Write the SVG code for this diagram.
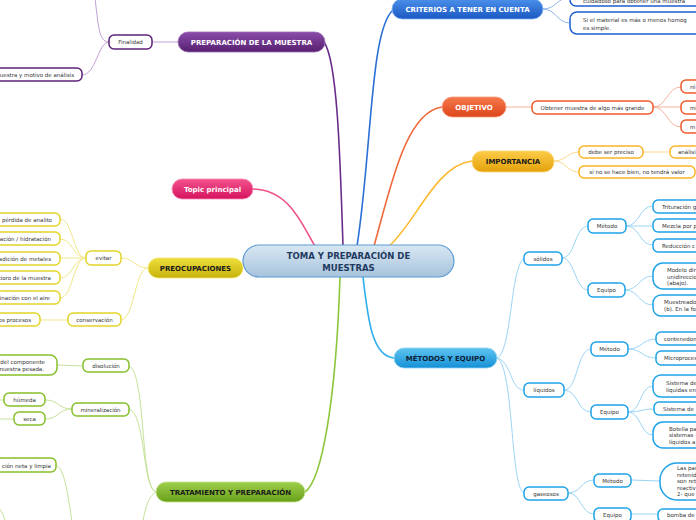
<svg xmlns="http://www.w3.org/2000/svg" width="696" height="520" viewBox="0 0 696 520">
<defs>
<linearGradient id="gPur" x1="0" y1="0" x2="0" y2="1"><stop offset="0" stop-color="#8c4cab"/><stop offset="1" stop-color="#55206f"/></linearGradient>
<linearGradient id="gBlu" x1="0" y1="0" x2="0" y2="1"><stop offset="0" stop-color="#4b90ea"/><stop offset="1" stop-color="#1b58c2"/></linearGradient>
<linearGradient id="gOra" x1="0" y1="0" x2="0" y2="1"><stop offset="0" stop-color="#f57a4b"/><stop offset="1" stop-color="#dd451b"/></linearGradient>
<linearGradient id="gYel" x1="0" y1="0" x2="0" y2="1"><stop offset="0" stop-color="#fdcc48"/><stop offset="1" stop-color="#e3a10a"/></linearGradient>
<linearGradient id="gCya" x1="0" y1="0" x2="0" y2="1"><stop offset="0" stop-color="#5ec4f1"/><stop offset="1" stop-color="#1590d6"/></linearGradient>
<linearGradient id="gPnk" x1="0" y1="0" x2="0" y2="1"><stop offset="0" stop-color="#f3538e"/><stop offset="1" stop-color="#d5135e"/></linearGradient>
<linearGradient id="gLim" x1="0" y1="0" x2="0" y2="1"><stop offset="0" stop-color="#eddf3c"/><stop offset="1" stop-color="#c8b20c"/></linearGradient>
<linearGradient id="gGrn" x1="0" y1="0" x2="0" y2="1"><stop offset="0" stop-color="#9fcf4c"/><stop offset="1" stop-color="#68a019"/></linearGradient>
<linearGradient id="gCen" x1="0" y1="0" x2="0" y2="1"><stop offset="0" stop-color="#d8e7f3"/><stop offset="1" stop-color="#a7c3dc"/></linearGradient>
</defs>
<style>
text{font-family:"DejaVu Sans","Verdana",sans-serif}
.mt{font-size:7px;font-weight:bold;text-anchor:middle}
.w{fill:#ffffff}
.d{fill:#1a1a1a}
.st{font-size:5.5px;fill:#333333}
.m{text-anchor:middle}
.e{text-anchor:end}
.sn{fill:#ffffff;stroke-width:1.5}
.c{fill:none;stroke-width:1}
.mc{fill:none;stroke-width:1.6}
.pu{stroke:#5e2279}.bl{stroke:#1f5fcc}.or{stroke:#ef5b2b}.ye{stroke:#f9b428}.cy{stroke:#1ea3e8}.li{stroke:#e3d42a}.gr{stroke:#86bf2a}
</style>

<g id="connectors">
<path class="mc" stroke="#6a2c8a" d="M343,246 C340,150 337,60 324,42"/>
<path class="mc" stroke="#2a6fd6" d="M357,246 C372,150 370,30 393,10"/>
<path class="mc" stroke="#f0683a" d="M374,246 C390,190 405,112 442,107"/>
<path class="mc" stroke="#fbba30" d="M388,247 C415,225 435,165 472,161"/>
<path class="mc" stroke="#ef4f8a" d="M253,189 C290,190 302,225 315,246"/>
<path class="mc" stroke="#2fb0ee" d="M363,277 C368,320 372,356 394,358"/>
<path class="mc" stroke="#8cc63a" d="M340,277 C336,400 322,480 305,492"/>

<g stroke="#c2a0d4" class="c">
<path class="c" d="M178,42 L152,42"/>
<path class="c" d="M109,42 C101,42 99,32 97,15 L95,-2"/>
<path class="c" d="M109,42 C98,42 96,75 82,75"/>
</g>
<g stroke="#8db6ec">
<path class="c" d="M543,9 C556,9 557,-2 570,-3"/>
<path class="c" d="M543,9 C556,9 557,23 570,23"/>
</g>
<g stroke="#f8b29a">
<path class="c" d="M506,107 L532,107"/>
<path class="c" d="M653,107 C667,107 667,87 681,87"/>
<path class="c" d="M653,107 L681,107"/>
<path class="c" d="M653,107 C667,107 667,127 681,127"/>
</g>
<g stroke="#fdd98a">
<path class="c" d="M554,161 C566,161 567,152 579,152"/>
<path class="c" d="M554,161 C566,161 567,172 579,172"/>
<path class="c" d="M643,152 L670,152"/>
</g>
<g stroke="#9bd5f5">
<path class="c" d="M497,358 C512,352 510,268 524,258"/>
<path class="c" d="M497,358 C512,362 510,390 524,390"/>
<path class="c" d="M497,358 C514,366 510,488 524,493"/>
<path class="c" d="M562,258 C575,258 575,226 588,226"/>
<path class="c" d="M562,258 C575,258 575,290 588,290"/>
<path class="c" d="M626,226 C640,226 639,206 653,206"/>
<path class="c" d="M626,226 L653,226"/>
<path class="c" d="M626,226 C640,226 639,245 653,245"/>
<path class="c" d="M625,290 C639,290 639,276 653,276"/>
<path class="c" d="M625,290 C639,290 639,305 653,305"/>
<path class="c" d="M564,390 C578,390 577,349 591,349"/>
<path class="c" d="M564,390 C578,390 577,412 591,412"/>
<path class="c" d="M628,349 C642,349 642,339 656,339"/>
<path class="c" d="M628,349 C642,349 642,358 656,358"/>
<path class="c" d="M628,412 C641,412 640,386 653,386"/>
<path class="c" d="M628,412 C641,412 641,409 654,409"/>
<path class="c" d="M628,412 C641,412 640,435 653,435"/>
<path class="c" d="M568,493 C581,493 581,480 594,480"/>
<path class="c" d="M568,493 C581,493 581,514 594,514"/>
<path class="c" d="M631,480 L660,481"/>
<path class="c" d="M631,514 L658,514"/>
</g>
<g stroke="#f1e68a">
<path class="c" d="M148,268 C135,268 134,258 121,258"/>
<path class="c" d="M148,268 C135,268 134,320 121,320"/>
<path class="c" d="M86,258 C73,258 73,219 60,219"/>
<path class="c" d="M86,258 C73,258 73,239 60,239"/>
<path class="c" d="M86,258 L60,258"/>
<path class="c" d="M86,258 C73,258 73,278 60,278"/>
<path class="c" d="M86,258 C73,258 73,298 60,298"/>
<path class="c" d="M68,320 L40,320"/>
</g>
<g stroke="#c5e29a">
<path class="c" d="M156,492 C140,488 146,372 129,366"/>
<path class="c" d="M156,492 C142,488 146,414 129,409"/>
<path class="c" d="M156,492 C148,496 145,510 143,521"/>
<path class="c" d="M83,366 L57,365"/>
<path class="c" d="M72,409 C58,409 59,400 45,400"/>
<path class="c" d="M72,409 C58,409 59,419 45,419"/>
<path class="c" d="M4,400 L-5,400"/>
<path class="c" d="M14,419 L-5,419"/>
<path class="c" d="M56,465 C66,470 68,500 72,521"/>
<path class="c" d="M-2,507 C2,511 4,516 5,521"/>
</g>
</g>

<g id="central">
<rect x="243" y="245" width="211" height="32" rx="16" fill="url(#gCen)" stroke="#5b9bd5" stroke-width="1.2"/>
<text x="348.5" y="259" class="m" font-size="8.5" font-weight="bold" fill="#1f3a5f">TOMA Y PREPARACIÓN DE</text>
<text x="348.5" y="270.5" class="m" font-size="8.5" font-weight="bold" fill="#1f3a5f">MUESTRAS</text>
</g>

<g id="preparacion">
<rect x="178" y="32" width="147" height="20" rx="10" fill="url(#gPur)" stroke="#9b6cb5" stroke-width="0.8"/>
<text x="251.5" y="44.5" class="mt w">PREPARACIÓN DE LA MUESTRA</text>
</g>
<g id="finalidad"><rect class="sn pu" x="109" y="35" width="43" height="14" rx="5"/><text class="st m" x="130.5" y="44">Finalidad</text></g>
<g id="tipo-muestra"><rect class="sn pu" x="-10" y="68" width="92" height="13" rx="5"/><text class="st e" x="74" y="77">uestra y motivo de análisis</text></g>

<g id="criterios">
<rect x="392" y="-1" width="151" height="20" rx="10" fill="url(#gBlu)" stroke="#7fb0f0" stroke-width="0.8"/>
<text x="467.5" y="11.5" class="mt w">CRITERIOS A TENER EN CUENTA</text>
</g>
<g id="crit1"><rect class="sn bl" x="570" y="-10" width="140" height="16" rx="6"/><text class="st" x="583" y="3">cuidadoso para obtener una muestra</text></g>
<g id="crit2"><rect class="sn bl" x="570" y="12" width="140" height="22" rx="7"/><text class="st" x="583" y="22">Si el material es más o menos homog</text><text class="st" x="583" y="29.5">es simple.</text></g>

<g id="objetivo">
<rect x="442" y="97" width="64" height="20" rx="10" fill="url(#gOra)" stroke="#f8a080" stroke-width="0.8"/>
<text x="474" y="109.5" class="mt w">OBJETIVO</text>
</g>
<g id="obtener"><rect class="sn or" x="532" y="101" width="121" height="13" rx="5"/><text class="st m" x="592.5" y="109.5">Obtener muestra de algo más grande</text></g>
<g id="obj1"><rect class="sn or" x="681" y="80" width="40" height="13" rx="5"/><text class="st" x="690" y="89">ré</text></g>
<g id="obj2"><rect class="sn or" x="681" y="101" width="40" height="13" rx="5"/><text class="st" x="690" y="109.5">mi</text></g>
<g id="obj3"><rect class="sn or" x="681" y="120" width="40" height="13" rx="5"/><text class="st" x="690" y="129">m</text></g>

<g id="importancia">
<rect x="472" y="151" width="82" height="21" rx="10" fill="url(#gYel)" stroke="#fcd57a" stroke-width="0.8"/>
<text x="513" y="164" class="mt d">IMPORTANCIA</text>
</g>
<g id="preciso"><rect class="sn ye" x="579" y="146" width="64" height="12" rx="5"/><text class="st m" x="611" y="154">debe ser preciso</text></g>
<g id="analisis"><rect class="sn ye" x="670" y="146" width="40" height="12" rx="5"/><text class="st" x="678" y="154">análisi</text></g>
<g id="valor"><rect class="sn ye" x="579" y="166" width="116" height="12" rx="5"/><text class="st m" x="637" y="174">si no se hace bien, no tendrá valor</text></g>

<g id="metodos">
<rect x="394" y="348" width="103" height="20" rx="10" fill="url(#gCya)" stroke="#8ed3f5" stroke-width="0.8"/>
<text x="445.5" y="360.5" class="mt" fill="#0d2236">MÉTODOS Y EQUIPO</text>
</g>
<g id="solidos"><rect class="sn cy" x="524" y="252" width="38" height="13" rx="5"/><text class="st m" x="543" y="260.5">sólidos</text></g>
<g id="sol-metodo"><rect class="sn cy" x="588" y="219" width="38" height="14" rx="5"/><text class="st m" x="607" y="228">Método</text></g>
<g id="sol-equipo"><rect class="sn cy" x="588" y="283" width="37" height="14" rx="5"/><text class="st m" x="606.5" y="292">Equipo</text></g>
<g id="sol-m1"><rect class="sn cy" x="653" y="200" width="60" height="13" rx="5"/><text class="st" x="662" y="208.5">Trituración g</text></g>
<g id="sol-m2"><rect class="sn cy" x="653" y="219" width="60" height="13" rx="5"/><text class="st" x="662" y="227.5">Mezcla por p</text></g>
<g id="sol-m3"><rect class="sn cy" x="653" y="239" width="60" height="13" rx="5"/><text class="st" x="662" y="247.5">Reducción c</text></g>
<g id="sol-e1"><rect class="sn cy" x="653" y="263" width="60" height="26" rx="10"/><text class="st" x="667" y="272">Modelo dir</text><text class="st" x="667" y="278.5">unidireccio</text><text class="st" x="667" y="285">(abajo).</text></g>
<g id="sol-e2"><rect class="sn cy" x="653" y="295" width="60" height="21" rx="8"/><text class="st" x="664" y="304">Muestreado</text><text class="st" x="664" y="310.5">(b). En la fo</text></g>

<g id="liquidos"><rect class="sn cy" x="524" y="383" width="40" height="14" rx="5"/><text class="st m" x="544" y="392">líquidos</text></g>
<g id="liq-metodo"><rect class="sn cy" x="591" y="342" width="37" height="14" rx="5"/><text class="st m" x="609.5" y="351">Método</text></g>
<g id="liq-equipo"><rect class="sn cy" x="591" y="405" width="37" height="14" rx="5"/><text class="st m" x="609.5" y="414">Equipo</text></g>
<g id="liq-m1"><rect class="sn cy" x="656" y="332" width="60" height="13" rx="5"/><text class="st" x="664" y="340.5">contenedore</text></g>
<g id="liq-m2"><rect class="sn cy" x="656" y="351" width="60" height="14" rx="5"/><text class="st" x="664" y="360">Microproces</text></g>
<g id="liq-e1"><rect class="sn cy" x="653" y="375" width="60" height="22" rx="8"/><text class="st" x="666" y="385">Sistema de</text><text class="st" x="666" y="391.5">líquidas en</text></g>
<g id="liq-e2"><rect class="sn cy" x="654" y="402" width="60" height="13" rx="5"/><text class="st" x="663" y="411">Sistema de</text></g>
<g id="liq-e3"><rect class="sn cy" x="653" y="422" width="60" height="26" rx="10"/><text class="st" x="669" y="430.5">Botella pa</text><text class="st" x="669" y="437">sistemas -</text><text class="st" x="669" y="443.5">líquidos a</text></g>

<g id="gaseosos"><rect class="sn cy" x="524" y="487" width="44" height="13" rx="5"/><text class="st m" x="546" y="495.5">gaseosos</text></g>
<g id="gas-metodo"><rect class="sn cy" x="594" y="474" width="37" height="13" rx="5"/><text class="st m" x="612.5" y="482.5">Método</text></g>
<g id="gas-equipo"><rect class="sn cy" x="594" y="508" width="37" height="14" rx="5"/><text class="st m" x="612.5" y="517">Equipo</text></g>
<g id="gas-m1"><rect class="sn cy" x="660" y="463" width="60" height="37" rx="17"/><text class="st" x="677" y="470">Las par</text><text class="st" x="677" y="476.5">retenid</text><text class="st" x="677" y="483">son ret</text><text class="st" x="677" y="489.5">reactiv</text><text class="st" x="677" y="496">2- que</text></g>
<g id="gas-e1"><rect class="sn cy" x="658" y="509" width="60" height="13" rx="5"/><text class="st" x="667" y="517">bomba de</text></g>

<g id="topic">
<rect x="172" y="179" width="81" height="20" rx="10" fill="url(#gPnk)" stroke="#f78db4" stroke-width="0.8"/>
<text x="212.5" y="191.5" class="mt w">Topic principal</text>
</g>

<g id="preocupaciones">
<rect x="148" y="258" width="95" height="20" rx="10" fill="url(#gLim)" stroke="#f2e778" stroke-width="0.8"/>
<text x="195.5" y="270.5" class="mt d">PREOCUPACIONES</text>
</g>
<g id="evitar"><rect class="sn li" x="86" y="251" width="35" height="14" rx="5"/><text class="st m" x="103.5" y="260">evitar</text></g>
<g id="conservacion"><rect class="sn li" x="68" y="313" width="53" height="13" rx="5"/><text class="st m" x="94.5" y="321.5">conservación</text></g>
<g id="ev1"><rect class="sn li" x="-10" y="213" width="70" height="13" rx="5"/><text class="st e" x="52" y="221.5">pérdida de analito</text></g>
<g id="ev2"><rect class="sn li" x="-10" y="232" width="70" height="13" rx="5"/><text class="st e" x="51" y="241">ación / hidratación</text></g>
<g id="ev3"><rect class="sn li" x="-10" y="252" width="70" height="13" rx="5"/><text class="st e" x="51" y="260.5">adición de metales</text></g>
<g id="ev4"><rect class="sn li" x="-10" y="271" width="70" height="13" rx="5"/><text class="st e" x="51" y="280">tioro de la muestra</text></g>
<g id="ev5"><rect class="sn li" x="-10" y="291" width="70" height="13" rx="5"/><text class="st e" x="50" y="300">inación con el aire</text></g>
<g id="procesos"><rect class="sn li" x="-10" y="313" width="50" height="13" rx="5"/><text class="st e" x="31" y="321.5">os procesos</text></g>

<g id="tratamiento">
<rect x="156" y="482" width="149" height="20" rx="10" fill="url(#gGrn)" stroke="#c2e38f" stroke-width="0.8"/>
<text x="230.5" y="494.5" class="mt d">TRATAMIENTO Y PREPARACIÓN</text>
</g>
<g id="disolucion"><rect class="sn gr" x="83" y="359" width="46" height="13" rx="5"/><text class="st m" x="106" y="367.5">disolución</text></g>
<g id="mineralizacion"><rect class="sn gr" x="72" y="403" width="57" height="13" rx="5"/><text class="st m" x="100.5" y="411.5">mineralización</text></g>
<g id="dis1"><rect class="sn gr" x="-10" y="355" width="67" height="20" rx="7"/><text class="st e" x="45" y="364">del componente</text><text class="st e" x="44" y="371">muestra pesada.</text></g>
<g id="humeda"><rect class="sn gr" x="4" y="393" width="41" height="13" rx="5"/><text class="st m" x="24.5" y="401.5">húmeda</text></g>
<g id="seca"><rect class="sn gr" x="14" y="412" width="31" height="13" rx="5"/><text class="st m" x="29.5" y="420.5">seca</text></g>
<g id="neta"><rect class="sn gr" x="-10" y="458" width="66" height="14" rx="5"/><text class="st e" x="51" y="467.5">ción neta y limpia</text></g>
</svg>
